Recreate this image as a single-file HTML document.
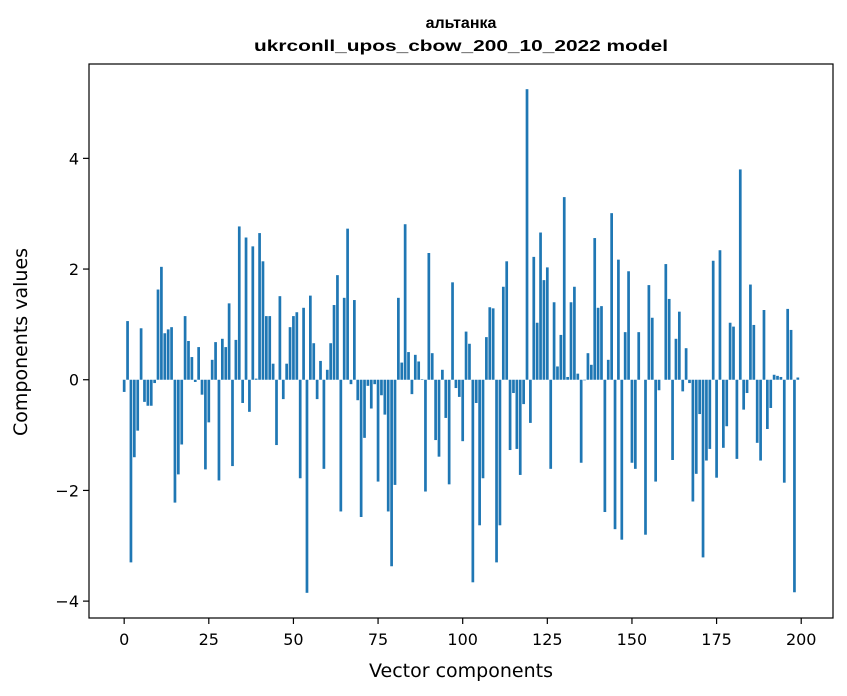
<!DOCTYPE html>
<html><head><meta charset="utf-8"><style>
html,body{margin:0;padding:0;background:#fff;}
svg{display:block;font-family:"DejaVu Sans","Liberation Sans",sans-serif;}
</style></head><body>
<svg id="chart" width="847" height="696" viewBox="0 0 847 696" xmlns="http://www.w3.org/2000/svg">
<rect x="0" y="0" width="847" height="696" fill="#fff"/>
<text x="461" y="28" text-anchor="middle" font-size="16" font-weight="bold" font-family="'Liberation Sans', sans-serif">альтанка</text>
<text x="461" y="51" text-anchor="middle" font-size="16" font-weight="bold" font-family="'Liberation Sans', sans-serif" textLength="414" lengthAdjust="spacingAndGlyphs">ukrconll_upos_cbow_200_10_2022 model</text>
<g id="bars"></g>
<g id="xaxis"></g>
<g id="yaxis"></g>
<rect x="89" y="64" width="744" height="554" fill="none" stroke="#000" stroke-width="1.2"/>
<text x="461" y="677" text-anchor="middle" font-size="19">Vector components</text>
<text transform="translate(27,342) rotate(-90)" text-anchor="middle" font-size="19">Components values</text>
</svg>
<script>
const values = [-0.22,1.06,-3.3,-1.40,-0.92,0.93,-0.40,-0.47,-0.47,-0.06,
1.63,2.04,0.84,0.91,0.95,-2.22,-1.71,-1.17,1.15,0.70,
0.41,-0.04,0.59,-0.27,-1.62,-0.77,0.36,0.68,-1.82,0.74,
0.59,1.38,-1.56,0.72,2.77,-0.42,2.57,-0.58,2.41,0.02,
2.65,2.14,1.15,1.15,0.29,-1.18,1.51,-0.35,0.29,0.95,
1.15,1.22,-1.78,1.30,-3.85,1.52,0.66,-0.35,0.34,-1.61,
0.18,0.66,1.35,1.89,-2.38,1.48,2.73,-0.08,1.44,-0.37,
-2.48,-1.05,-0.11,-0.52,-0.08,-1.84,-0.28,-0.63,-2.38,-3.37,
-1.90,1.48,0.31,2.81,0.50,-0.26,0.45,0.33,0.01,-2.02,
2.29,0.48,-1.09,-1.39,0.18,-0.69,-1.89,1.76,-0.15,-0.31,
-1.11,0.87,0.65,-3.66,-0.42,-2.63,-1.78,0.77,1.31,1.29,
-3.3,-2.63,1.68,2.14,-1.27,-0.24,-1.25,-1.72,-0.44,5.25,
-0.78,2.22,1.03,2.66,1.80,2.03,-1.61,1.40,0.24,0.81,
3.30,0.05,1.40,1.68,0.11,-1.50,-0.01,0.48,0.27,2.56,
1.30,1.33,-2.39,0.36,3.01,-2.70,2.17,-2.89,0.86,1.96,
-1.50,-1.61,0.86,0.0,-2.80,1.71,1.12,-1.84,-0.19,0.0,
2.09,1.46,-1.45,0.74,1.23,-0.21,0.57,-0.06,-2.20,-1.70,
-0.62,-3.21,-1.46,-1.25,2.15,-1.77,2.34,-1.23,-0.84,1.03,
0.96,-1.43,3.80,-0.54,-0.24,1.72,0.99,-1.14,-1.46,1.26,
-0.89,-0.51,0.09,0.07,0.05,-1.86,1.28,0.90,-3.84,0.04];
const xTicks = [0,25,50,75,100,125,150,175,200];
const yTicks = [-4,-2,0,2,4];
const yTickLabels = ["\u22124","\u22122","0","2","4"];

const NS="http://www.w3.org/2000/svg";
const xMin=-10.39, xMax=209.39, pxL=89, pxR=833;
const yMin=-4.305, yMax=5.705, pyB=618, pyT=64;
function xs(v){return pxL+(v-xMin)/(xMax-xMin)*(pxR-pxL);}
function ys(v){return pyB-(v-yMin)/(yMax-yMin)*(pyB-pyT);}
function mk(tag,attrs){const e=document.createElementNS(NS,tag);for(const k in attrs)e.setAttribute(k,attrs[k]);return e;}

const bars=document.getElementById('bars');
values.forEach((v,i)=>{
  const x0=xs(i-0.4), x1=xs(i+0.4);
  const y0=ys(Math.max(v,0)), y1=ys(Math.min(v,0));
  const r=mk('rect',{x:x0,y:y0,width:x1-x0,height:Math.max(y1-y0,0.01),fill:'#1f77b4'});
  
  
  bars.appendChild(r);
});
const xa=document.getElementById('xaxis');
xTicks.forEach(t=>{
  const x=xs(t);
  const l=mk('line',{x1:x,x2:x,y1:pyB,y2:pyB+6,stroke:'#000','stroke-width':1.2});
  
  
  xa.appendChild(l);
  const tx=mk('text',{x:x,y:pyB+27,'text-anchor':'middle','font-size':16});
  
  
  tx.textContent=String(t);
  xa.appendChild(tx);
});
const ya=document.getElementById('yaxis');
yTicks.forEach((t,i)=>{
  const y=ys(t);
  const l=mk('line',{x1:pxL-6,x2:pxL,y1:y,y2:y,stroke:'#000','stroke-width':1.2});
  
  
  ya.appendChild(l);
  const tx=mk('text',{x:pxL-10,y:y+6,'text-anchor':'end','font-size':16});
  
  
  tx.textContent=yTickLabels[i];
  ya.appendChild(tx);
});
</script>
</body></html>
